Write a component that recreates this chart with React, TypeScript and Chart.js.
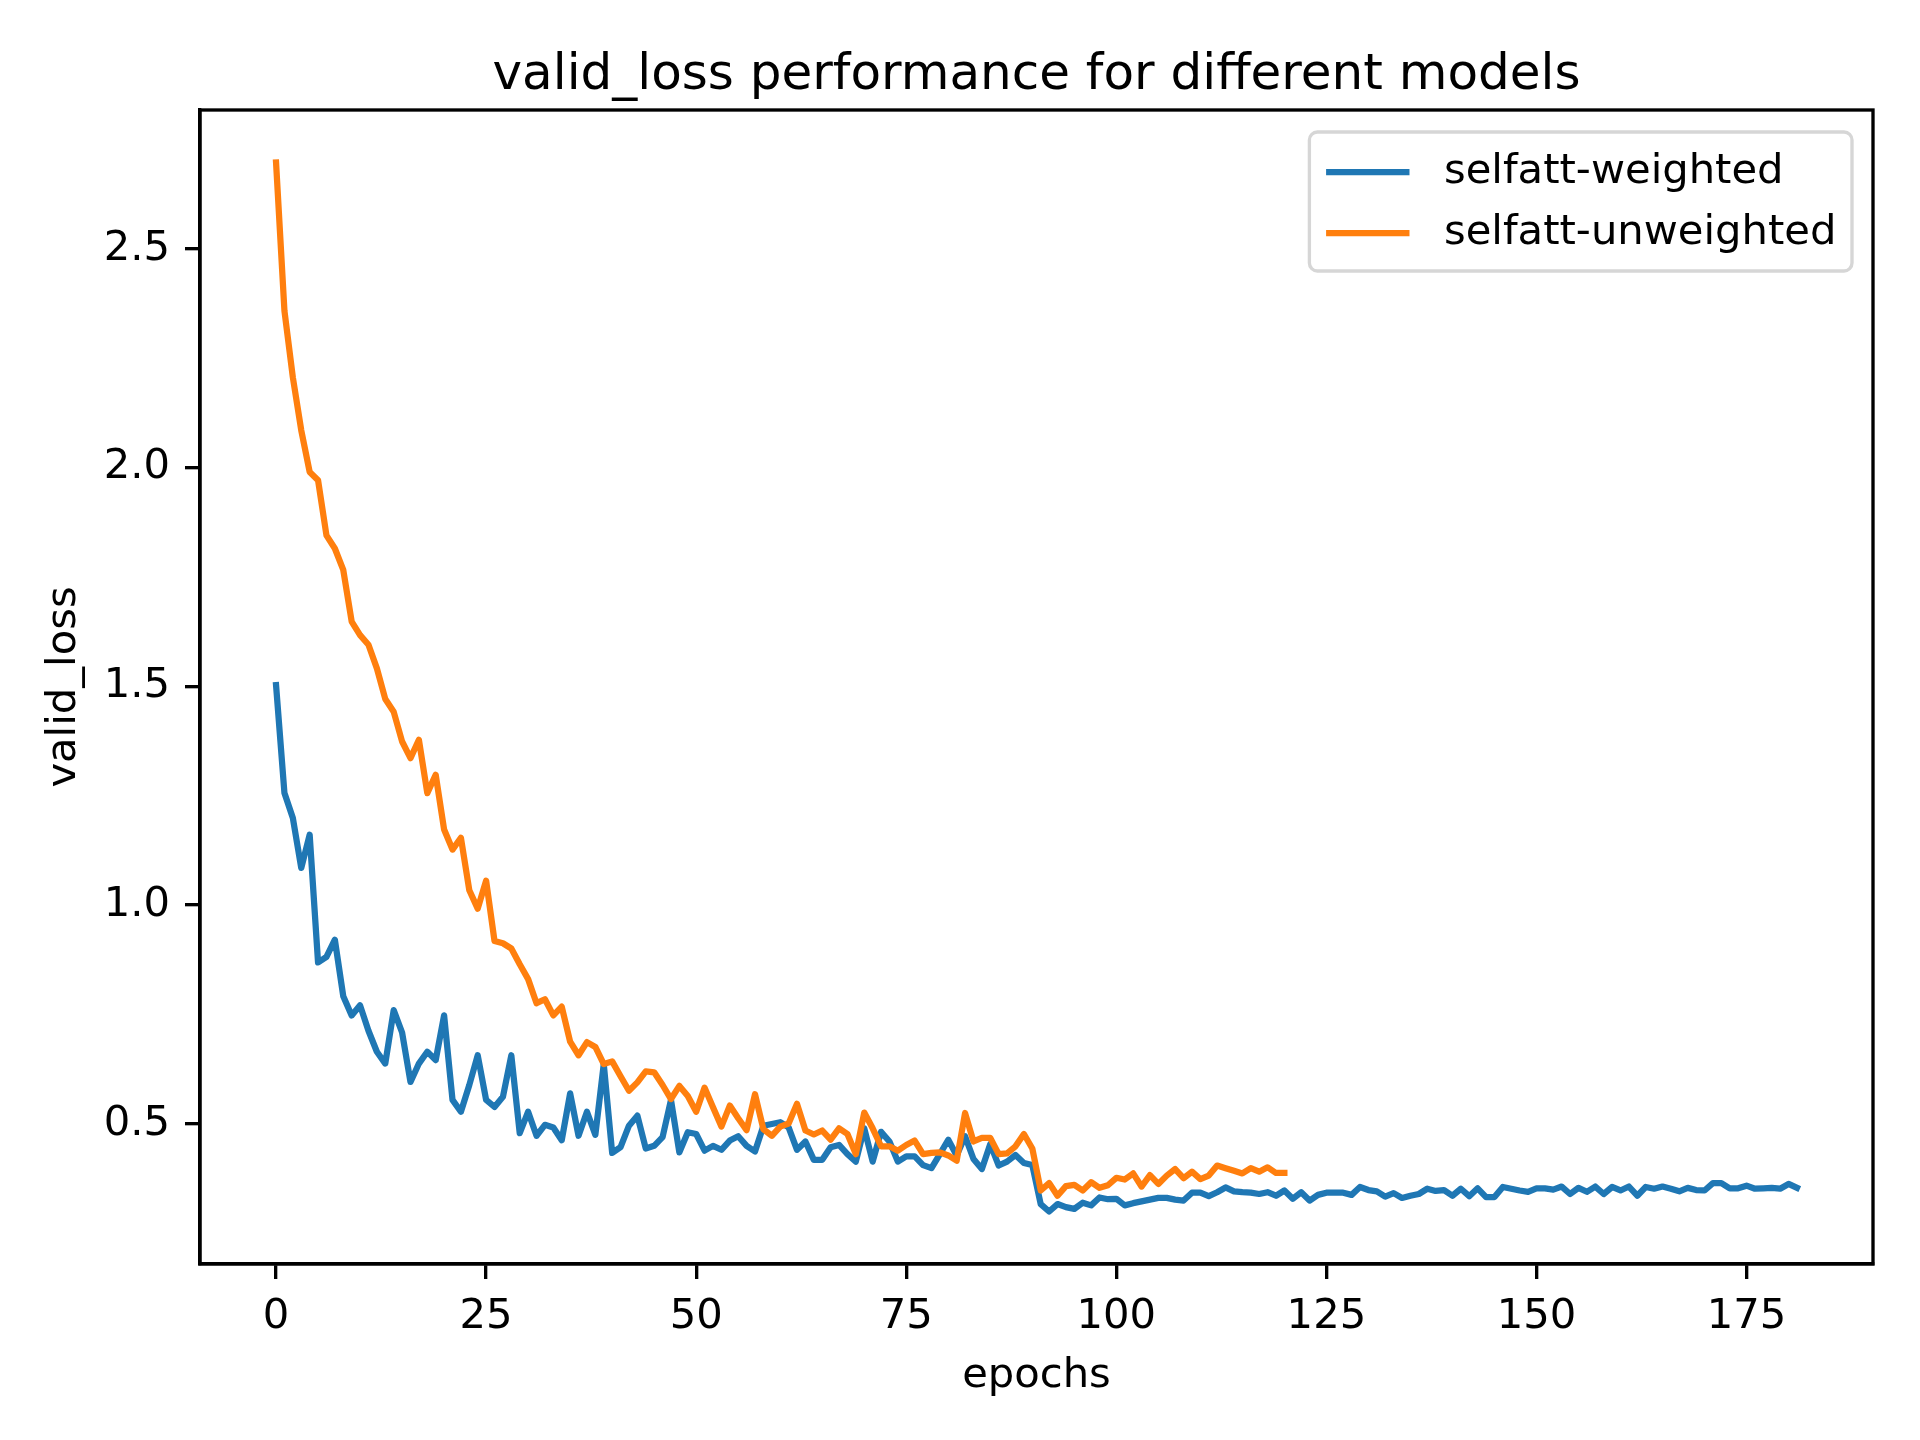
import React, { useEffect, useRef } from 'react';
import { Chart, registerables } from 'chart.js';

Chart.register(...registerables);

const TITLE = 'valid_loss performance for different models';
const X_LABEL = 'epochs';
const Y_LABEL = 'valid_loss';
const SERIES_NAMES = ['selfatt-weighted', 'selfatt-unweighted'];

const X_TICKS = [0, 25, 50, 75, 100, 125, 150, 175];
const Y_TICKS = [0.5, 1.0, 1.5, 2.0, 2.5];

// selfatt-weighted, epochs 0..181
const WEIGHTED = [
  1.503, 1.256, 1.199, 1.085, 1.161, 0.869, 0.882, 0.921, 0.792, 0.748,
  0.771, 0.713, 0.665, 0.638, 0.760, 0.709, 0.596, 0.638, 0.665, 0.646,
  0.748, 0.555, 0.528, 0.589, 0.657, 0.555, 0.539, 0.562, 0.657, 0.479,
  0.528, 0.473, 0.498, 0.492, 0.463, 0.570, 0.473, 0.528, 0.475, 0.637,
  0.434, 0.447, 0.496, 0.519, 0.444, 0.450, 0.470, 0.555, 0.435, 0.481,
  0.477, 0.439, 0.450, 0.441, 0.462, 0.472, 0.450, 0.437, 0.496, 0.500,
  0.504, 0.492, 0.441, 0.460, 0.418, 0.418, 0.447, 0.452, 0.431, 0.414,
  0.490, 0.414, 0.482, 0.460, 0.414, 0.426, 0.426, 0.406, 0.399, 0.431,
  0.464, 0.428, 0.472, 0.420, 0.397, 0.454, 0.405, 0.414, 0.429, 0.411,
  0.406, 0.317, 0.300, 0.317, 0.310, 0.306, 0.320, 0.314, 0.332, 0.328,
  0.329, 0.314, 0.319, 0.323, 0.327, 0.331, 0.331, 0.327, 0.325, 0.343,
  0.343, 0.335, 0.344, 0.355, 0.346, 0.344, 0.343, 0.340, 0.344, 0.336,
  0.348, 0.329, 0.344, 0.325, 0.338, 0.343, 0.343, 0.343, 0.338, 0.356,
  0.349, 0.346, 0.334, 0.342, 0.331, 0.336, 0.340, 0.352, 0.347, 0.349,
  0.336, 0.352, 0.335, 0.353, 0.333, 0.333, 0.356, 0.352, 0.348, 0.345,
  0.353, 0.353, 0.350, 0.357, 0.340, 0.354, 0.345, 0.357, 0.340, 0.356,
  0.348, 0.357, 0.336, 0.356, 0.352, 0.357, 0.352, 0.346, 0.354, 0.349,
  0.348, 0.365, 0.365, 0.353, 0.353, 0.359, 0.352, 0.353, 0.354, 0.352,
  0.363, 0.354,
];

// selfatt-unweighted, epochs 0..120
const UNWEIGHTED = [
  2.697, 2.358, 2.206, 2.085, 1.990, 1.971, 1.845, 1.815, 1.766, 1.648,
  1.617, 1.595, 1.541, 1.471, 1.442, 1.374, 1.336, 1.378, 1.256, 1.298,
  1.173, 1.127, 1.154, 1.034, 0.992, 1.056, 0.918, 0.913, 0.901, 0.865,
  0.831, 0.776, 0.785, 0.748, 0.768, 0.688, 0.657, 0.687, 0.676, 0.637,
  0.643, 0.609, 0.576, 0.595, 0.620, 0.618, 0.589, 0.557, 0.587, 0.564,
  0.528, 0.583, 0.538, 0.494, 0.542, 0.513, 0.486, 0.568, 0.488, 0.473,
  0.494, 0.501, 0.546, 0.485, 0.476, 0.485, 0.464, 0.490, 0.477, 0.431,
  0.526, 0.490, 0.449, 0.449, 0.439, 0.452, 0.462, 0.431, 0.434, 0.435,
  0.428, 0.416, 0.525, 0.460, 0.468, 0.468, 0.431, 0.433, 0.449, 0.477,
  0.444, 0.348, 0.365, 0.336, 0.358, 0.361, 0.348, 0.367, 0.354, 0.360,
  0.377, 0.373, 0.387, 0.357, 0.383, 0.363, 0.382, 0.397, 0.376, 0.391,
  0.374, 0.382, 0.405, 0.399, 0.393, 0.387, 0.399, 0.391, 0.401, 0.388,
  0.388,
];

const BLUE = '#1f77b4';
const ORANGE = '#ff7f0e';
const FONT = '"DejaVu Sans", "Liberation Sans", sans-serif';
const TICK_PX = 41.7;

const decorPlugin = {
  id: 'decor',
  afterDatasetsDraw(chart: any) {
    const { ctx, chartArea: ca } = chart;
    ctx.save();
    // axes frame (all four spines)
    ctx.strokeStyle = '#000';
    ctx.lineWidth = 3.33;
    ctx.strokeRect(ca.left, ca.top, ca.right - ca.left, ca.bottom - ca.top);

    // title
    ctx.fillStyle = '#000';
    ctx.font = `50px ${FONT}`;
    ctx.textAlign = 'center';
    ctx.textBaseline = 'alphabetic';
    ctx.fillText(TITLE, (ca.left + ca.right) / 2, ca.top - 21);

    // legend (upper right, inside axes)
    ctx.font = `${TICK_PX}px ${FONT}`;
    const textW = Math.max(...SERIES_NAMES.map((s) => ctx.measureText(s).width));
    const right = ca.right - 21;
    const top = ca.top + 22;
    const width = 16.7 + 83.4 + 33.4 + textW + 16.7;
    const height = 139;
    const left = right - width;
    const r = 8;
    ctx.beginPath();
    ctx.moveTo(left + r, top);
    ctx.lineTo(right - r, top);
    ctx.arcTo(right, top, right, top + r, r);
    ctx.lineTo(right, top + height - r);
    ctx.arcTo(right, top + height, right - r, top + height, r);
    ctx.lineTo(left + r, top + height);
    ctx.arcTo(left, top + height, left, top + height - r, r);
    ctx.lineTo(left, top + r);
    ctx.arcTo(left, top, left + r, top, r);
    ctx.closePath();
    ctx.fillStyle = 'rgba(255,255,255,0.8)';
    ctx.fill();
    ctx.strokeStyle = '#d6d6d6';
    ctx.lineWidth = 3.33;
    ctx.stroke();

    const colors = [BLUE, ORANGE];
    const rows = [top + 40, top + 101];
    SERIES_NAMES.forEach((name, i) => {
      const y = rows[i];
      ctx.strokeStyle = colors[i];
      ctx.lineWidth = 6.25;
      ctx.lineCap = 'butt';
      ctx.beginPath();
      ctx.moveTo(left + 16.7, y);
      ctx.lineTo(left + 16.7 + 83.4, y);
      ctx.stroke();
      ctx.fillStyle = '#000';
      ctx.textAlign = 'left';
      ctx.textBaseline = 'middle';
      ctx.fillText(name, left + 16.7 + 83.4 + 34.5, y);
    });
    ctx.restore();
  },
};

export default function App() {
  const canvasRef = useRef<HTMLCanvasElement | null>(null);

  useEffect(() => {
    document.body.style.margin = '0';
    const canvas = canvasRef.current;
    if (!canvas) return;
    const tickFont = { family: FONT, size: TICK_PX };
    const chart = new Chart(canvas, {
      type: 'line',
      data: {
        datasets: [
          {
            label: SERIES_NAMES[0],
            data: WEIGHTED.map((y, i) => ({ x: i, y })),
            borderColor: BLUE,
            backgroundColor: BLUE,
            borderWidth: 6.25,
            pointRadius: 0,
            tension: 0,
            borderCapStyle: 'square',
            borderJoinStyle: 'round',
            order: 1,
          },
          {
            label: SERIES_NAMES[1],
            data: UNWEIGHTED.map((y, i) => ({ x: i, y })),
            borderColor: ORANGE,
            backgroundColor: ORANGE,
            borderWidth: 6.25,
            pointRadius: 0,
            tension: 0,
            borderCapStyle: 'square',
            borderJoinStyle: 'round',
            order: 0,
          },
        ],
      },
      options: {
        animation: false,
        responsive: false,
        devicePixelRatio: 1,
        layout: { padding: { top: 110, right: 47, bottom: 0, left: 0 } },
        plugins: {
          legend: { display: false },
          title: { display: false },
          tooltip: { enabled: false },
        },
        scales: {
          x: {
            type: 'linear',
            min: -9.05,
            max: 190.05,
            afterFit: (s: any) => {
              s.height = 176;
            },
            afterBuildTicks: (s: any) => {
              s.ticks = X_TICKS.map((v) => ({ value: v }));
            },
            grid: {
              drawOnChartArea: false,
              drawTicks: true,
              tickLength: 15,
              color: '#000',
              lineWidth: 3.33,
            },
            border: { display: true, color: '#000', width: 3.33 },
            ticks: {
              color: '#000',
              font: tickFont,
              padding: 13,
              maxRotation: 0,
              autoSkip: false,
              callback: (v: any) => String(v),
            },
            title: {
              display: true,
              text: X_LABEL,
              color: '#000',
              font: tickFont,
              padding: { top: 0, bottom: 39 },
            },
          },
          y: {
            type: 'linear',
            min: 0.18,
            max: 2.817,
            afterFit: (s: any) => {
              s.width = 200;
            },
            afterBuildTicks: (s: any) => {
              s.ticks = Y_TICKS.map((v) => ({ value: v }));
            },
            grid: {
              drawOnChartArea: false,
              drawTicks: true,
              tickLength: 15,
              color: '#000',
              lineWidth: 3.33,
            },
            border: { display: true, color: '#000', width: 3.33 },
            ticks: {
              color: '#000',
              font: tickFont,
              padding: 15,
              autoSkip: false,
              callback: (v: any) => Number(v).toFixed(1),
            },
            title: {
              display: true,
              text: Y_LABEL,
              color: '#000',
              font: tickFont,
              padding: { top: 39, bottom: 0 },
            },
          },
        },
      },
      plugins: [decorPlugin],
    } as any);
    return () => {
      chart.destroy();
    };
  }, []);

  return (
    <div style={{ width: 1920, height: 1440, background: '#fff' }}>
      <canvas
        ref={canvasRef}
        width={1920}
        height={1440}
        style={{ display: 'block', width: 1920, height: 1440 }}
      />
    </div>
  );
}
